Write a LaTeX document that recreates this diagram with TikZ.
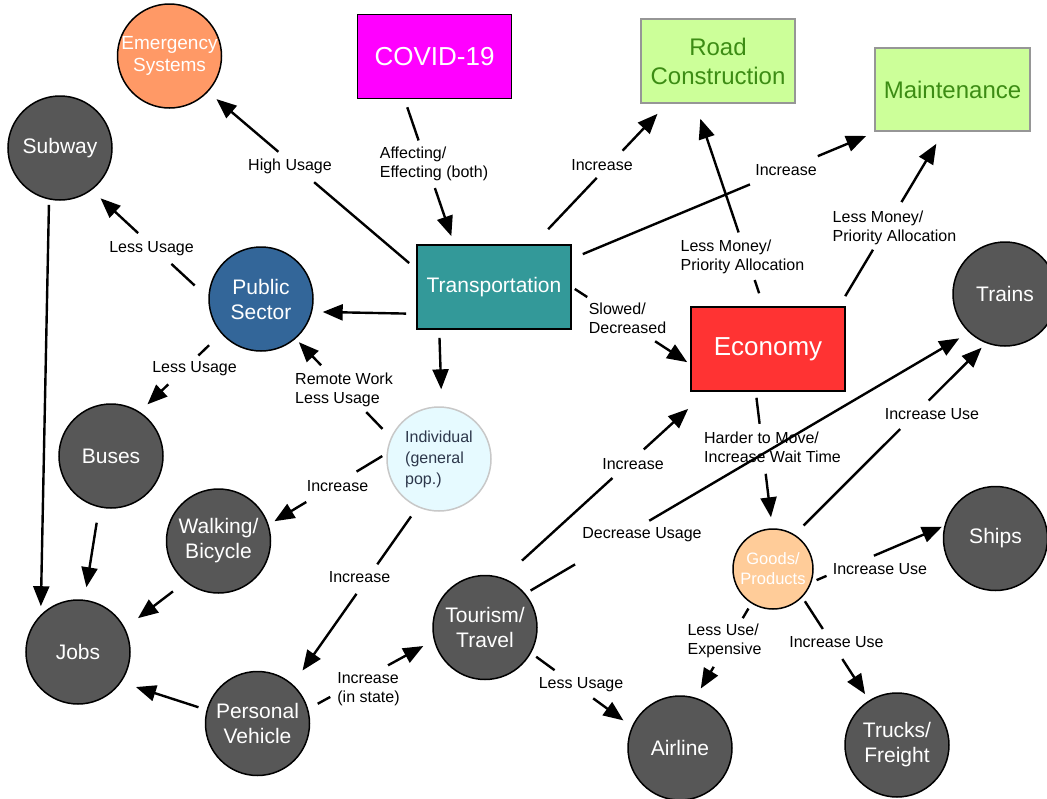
\documentclass[tikz,border=0pt]{standalone}
\usepackage{fontspec}
\setmainfont{Liberation Sans}
\usetikzlibrary{arrows.meta}
\newcommand\fsz[2]{\fontsize{#1}{#2}\selectfont}
\definecolor{cmag}{RGB}{255,0,255}
\definecolor{cgreen}{RGB}{204,255,153}
\definecolor{cgrayb}{RGB}{150,150,150}
\definecolor{ctgreen}{RGB}{60,140,20}
\definecolor{cteal}{RGB}{51,153,153}
\definecolor{cred}{RGB}{255,51,51}
\definecolor{corange}{RGB}{255,153,102}
\definecolor{cdark}{RGB}{87,87,87}
\definecolor{cblue}{RGB}{51,102,153}
\definecolor{ccyan}{RGB}{230,250,255}
\definecolor{cgrayl}{RGB}{200,200,200}
\definecolor{ctext}{RGB}{45,55,75}
\definecolor{cpeach}{RGB}{255,204,153}
\tikzset{
  box/.style={rectangle, draw=black, line width=1.6pt, minimum width=154pt, minimum height=84pt, inner sep=0pt, align=center},
  circ/.style={circle, draw=black, line width=1.5pt, minimum size=104pt, inner sep=0pt, align=center, text=white, font=\fsz{21}{25}},
  grayc/.style={circ, fill=cdark},
  lbl/.style={font=\fsz{16}{19}, align=left, inner sep=0pt},
  conn/.style={line width=2.4pt, -{Triangle[length=20pt,width=16pt]}},
  gap/.style 2 args={dash pattern=on #1pt off #2pt on 2000pt}
}
\begin{document}
\begin{tikzpicture}[x=1pt,y=-1pt]
\useasboundingbox (0,0) rectangle (1047,798);
% rectangles
\node[box, fill=cmag, text=white, font=\fsz{26}{31}] (covid) at (434.5,56.5) {COVID-19};
\node[box, fill=cgreen, draw=cgrayb, text=ctgreen, font=\fsz{24}{29}] (road) at (718,61) {Road\\Construction};
\node[box, fill=cgreen, draw=cgrayb, text=ctgreen, font=\fsz{24}{29}, minimum width=155pt, minimum height=83pt] (maint) at (952.5,89.5) {Maintenance};
\node[box, fill=cteal, text=white, font=\fsz{21}{25}] (trans) at (494,287) {Transportation};
\node[box, fill=cred, text=white, font=\fsz{26}{31}] (econ) at (768,349) {Economy};
% circles
\node[circ, fill=corange, font=\fsz{19}{22}] (emerg) at (169.5,56) {Emergency\\Systems};
\node[grayc] (subway) at (60,148) {Subway};
\node[circ, fill=cblue] (pubsec) at (261,299) {Public\\Sector};
\node[grayc] (trains) at (1005,294) {Trains};
\node[grayc] (buses) at (111,456) {Buses};
\node[circ, fill=ccyan, draw=cgrayl, text=ctext, font=\fsz{16}{21}, align=left] (indiv) at (439,459) {Individual\\(general\\pop.)};
\node[grayc] (walk) at (218.5,541) {Walking/\\Bicycle};
\node[grayc] (jobs) at (78,652) {Jobs};
\node[grayc] (pv) at (257.5,723.5) {Personal\\Vehicle};
\node[grayc] (tour) at (485,627.5) {Tourism/\\Travel};
\node[grayc] (airline) at (680,748) {Airline};
\node[circ, fill=cpeach, minimum size=80pt, font=\fsz{16.5}{20}] (goods) at (773,569) {Goods/\\Products};
\node[grayc] (ships) at (995.5,538.5) {Ships};
\node[grayc] (trucks) at (897,745) {Trucks/\\Freight};
% labels
\node[lbl] (l1) at (290,166.5) {High Usage};
\node[lbl] (l2) at (434,163.5) {Affecting/\\Effecting (both)};
\node[lbl] (l3) at (602,165) {Increase};
\node[lbl] (l4) at (786,170.5) {Increase};
\node[lbl] (l5) at (742.5,256.5) {Less Money/\\Priority Allocation};
\node[lbl] (l6) at (894.5,227.5) {Less Money/\\Priority Allocation};
\node[lbl] (l7) at (151.5,248.5) {Less Usage};
\node[lbl] (l8) at (194.5,369) {Less Usage};
\node[lbl] (l9) at (344,389.5) {Remote Work\\Less Usage};
\node[lbl] (l10) at (627.5,318.5) {Slowed/\\Decreased};
\node[lbl] (l11) at (337.5,486) {Increase};
\node[lbl] (l12) at (359.5,577.5) {Increase};
\node[lbl] (l13) at (368.5,689) {Increase\\(in state)};
\node[lbl] (l14) at (633,464) {Increase};
\node[lbl] (l15) at (642,535) {Decrease Usage};
\node[lbl] (l16) at (581,684.5) {Less Usage};
\node[lbl] (l17) at (772.5,447.5) {Harder to Move/\\Increase Wait Time};
\node[lbl] (l18) at (932,414) {Increase Use};
\node[lbl] (l19) at (880,569) {Increase Use};
\node[lbl] (l20) at (836.5,642.5) {Increase Use};
\node[lbl] (l21) at (724.5,641) {Less Use/\\Expensive};
% connectors
\draw[conn, gap={124.8}{46.9}, shorten <=9.2pt, shorten >=11pt] (trans.167.5) -- (emerg.-43.7);
\draw[conn, gap={35.1}{50.3}, shorten <=8.4pt, shorten >=8.5pt] (covid.235.6) -- (trans.133.9);
\draw[conn, gap={70.7}{37.5}, shorten <=20.7pt, shorten >=13.8pt] (trans.47.3) -- (road.-140.3);
\draw[conn, gap={181.1}{73.5}, shorten <=11.9pt, shorten >=10.8pt] (trans.20.9) -- (maint.-151.9);
\draw[conn, gap={13.9}{50.3}, shorten <=13.7pt, shorten >=15.8pt] (econ.96.3) -- (road.-118.7);
\draw[conn, gap={54.1}{55.5}, shorten <=11.7pt, shorten >=14pt] (econ.31) -- (maint.-102.6);
\draw[conn, gap={31.8}{45.3}, shorten <=18.5pt, shorten >=12pt] (pubsec.179.5) -- (subway.-53.4);
\draw[conn, shorten <=10pt, shorten >=10.5pt] (trans.199.5) -- (pubsec.-14.2);
\draw[conn, gap={14.9}{41.7}, shorten <=16.7pt, shorten >=10.7pt] (pubsec.221.6) -- (buses.57);
\draw[conn, gap={23.3}{65.1}, shorten <=12pt, shorten >=4.7pt] (indiv.156.8) -- (pubsec.-49.6);
\draw[conn, shorten <=8pt, shorten >=17pt] (trans.218.4) -- (indiv.87.8);
\draw[conn, gap={14.8}{81}, shorten <=3.6pt, shorten >=3.6pt] (trans.0.7) -- (econ.-169);
\draw[conn, gap={30}{58.8}, shorten <=5pt, shorten >=6.7pt] (indiv.174) -- (walk.18.6);
\draw[conn, gap={58.6}{36.1}, shorten <=11.3pt, shorten >=16.9pt] (indiv.246.9) -- (pv.48);
\draw[conn, shorten <=5.2pt, shorten >=8.5pt] (subway.258) -- (jobs.135.5);
\draw[conn, shorten <=15.5pt, shorten >=12.5pt] (buses.257.2) -- (jobs.83.5);
\draw[conn, shorten <=15.5pt, shorten >=16.3pt] (walk.231.3) -- (jobs.27.8);
\draw[conn, shorten <=8.5pt, shorten >=15.5pt] (pv.165.7) -- (jobs.-35.5);
\draw[conn, gap={14.3}{65.9}, shorten <=10.8pt, shorten >=12pt] (pv.16) -- (tour.194.2);
\draw[conn, gap={122.5}{42.4}, shorten <=25.7pt, shorten >=25.3pt] (tour.70.9) -- (econ.-145.1);
\draw[conn, gap={51.6}{86.1}, shorten <=6pt, shorten >=11.3pt] (tour.40.1) -- (trains.227.3);
\draw[conn, gap={22.8}{47.8}, shorten <=6.2pt, shorten >=10.4pt] (tour.-29.9) -- (airline.156.3);
\draw[conn, gap={26.2}{50.4}, shorten <=6pt, shorten >=11pt] (econ.254.4) -- (goods.91);
\draw[conn, gap={136.5}{40.3}, shorten <=12.7pt, shorten >=6.3pt] (goods.58.3) -- (trains.249);
\draw[conn, gap={10.8}{51.5}, shorten <=5.5pt, shorten >=2.5pt] (goods.-19.1) -- (ships.166);
\draw[conn, gap={33}{35.8}, shorten <=4.7pt, shorten >=7.3pt] (goods.-44.6) -- (trucks.122.6);
\draw[conn, gap={11.2}{56.6}, shorten <=5.8pt, shorten >=10.5pt] (goods.238.5) -- (airline.73.7);
\end{tikzpicture}
\end{document}
